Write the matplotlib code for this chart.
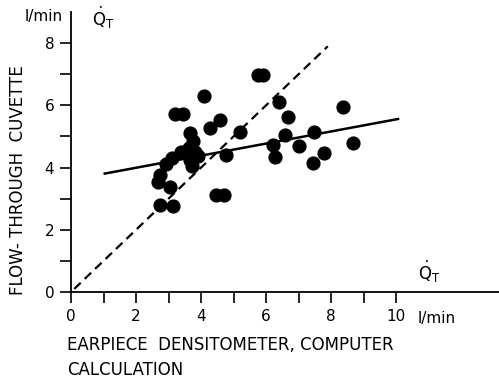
import numpy as np
import matplotlib.pyplot as plt

# earpiece densitometer (x) vs flow-through cuvette (y), l/min
x_ear = [2.74, 3.14, 2.68, 2.74, 3.05, 2.92, 3.10, 3.38, 3.66, 3.72, 3.82, 3.63,
         3.75, 3.66, 3.90, 3.20, 3.45, 4.10, 4.28, 4.58, 4.46, 4.70, 4.77, 5.20,
         5.75, 5.90, 6.41, 6.69, 6.58, 6.23, 6.28, 7.00, 7.49, 7.46, 7.77, 8.38, 8.69]
y_cuv = [2.80, 2.77, 3.54, 3.76, 3.38, 4.12, 4.31, 4.50, 4.24, 4.05, 4.50, 4.63,
         4.86, 5.11, 4.37, 5.72, 5.72, 6.30, 5.27, 5.53, 3.12, 3.12, 4.40, 5.15,
         6.98, 6.98, 6.12, 5.62, 5.05, 4.73, 4.35, 4.69, 5.15, 4.14, 4.46, 5.94, 4.80]

# regression line end points and identity line
reg_x = [1.0, 10.1]
reg_y = [3.80, 5.57]
ident = [0.1, 7.9]

xticks = list(range(0, 11))
yticks = list(range(0, 9))

fig = plt.figure(figsize=(4.99, 3.79), dpi=100)
ax = fig.add_axes([71/499, 87/379, 428/499, 280/379])
ax.set_xlim(0, 428/32.5)
ax.set_ylim(0, 280/31.1)

ax.scatter(x_ear, y_cuv, s=85, color="black", zorder=3)
ax.plot(ident, ident, color="black", lw=1.6, ls=(0, (4, 2.5)))
ax.plot(reg_x, reg_y, color="black", lw=1.8, solid_capstyle="butt")

for s in ["top", "right"]:
    ax.spines[s].set_visible(False)
ax.spines["left"].set_linewidth(1.3)
ax.spines["bottom"].set_linewidth(1.3)

ax.set_xticks(xticks)
ax.set_xticklabels([str(t) if t % 2 == 0 else "" for t in xticks])
ax.set_yticks(yticks)
ax.set_yticklabels([str(t) if t % 2 == 0 else "" for t in yticks])
ax.tick_params(length=8, width=1.2, labelsize=11, pad=4)

fig.text(25/499, 1 - 16/379, "l/min", fontsize=11, va="center", ha="left")
fig.text(92/499, 1 - 18/379, r"$\dot{\mathrm{Q}}_{\mathrm{T}}$", fontsize=12,
         va="center", ha="left")
fig.text(418/499, 1 - 272/379, r"$\dot{\mathrm{Q}}_{\mathrm{T}}$", fontsize=12,
         va="center", ha="left")
fig.text(418/499, 1 - 318/379, "l/min", fontsize=11, va="center", ha="left")

fig.text(18/499, 1 - 180/379, "FLOW- THROUGH  CUVETTE", rotation=90,
         fontsize=12, va="center", ha="center")
fig.text(67/499, 1 - 345/379, "EARPIECE  DENSITOMETER, COMPUTER",
         fontsize=12, va="center", ha="left")
fig.text(67/499, 1 - 370/379, "CALCULATION", fontsize=12, va="center", ha="left")

fig.savefig("out.png", dpi=100)
